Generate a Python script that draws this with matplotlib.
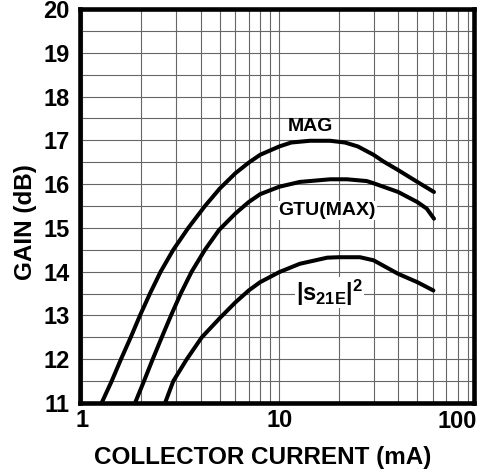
import matplotlib
matplotlib.use("Agg")
import matplotlib.pyplot as plt
from matplotlib.transforms import blended_transform_factory

plt.rcParams['font.family'] = ['Liberation Sans', 'DejaVu Sans']
plt.rcParams['font.weight'] = 'bold'
plt.rcParams['mathtext.fontset'] = 'custom'
plt.rcParams['mathtext.rm'] = 'Liberation Sans:bold'
plt.rcParams['mathtext.bf'] = 'Liberation Sans:bold'
plt.rcParams['mathtext.it'] = 'Liberation Sans:bold'

# collector current (mA) vs gain (dB)
mag_x = [1.26, 1.417, 1.579, 1.769, 1.971, 2.214, 2.508, 2.906, 3.462, 4.205, 5.0, 6.0, 7.0, 8.0,
         10.0, 11.5, 14.3, 18.1, 21.5, 25.0, 30.0, 33.6, 40.0, 50.0, 60.7]
mag_y = [11.0, 11.5, 12.0, 12.5, 13.0, 13.5, 14.0, 14.5, 15.0, 15.5, 15.9, 16.25, 16.49, 16.67,
         16.86, 16.95, 16.99, 16.99, 16.95, 16.86, 16.67, 16.52, 16.32, 16.05, 15.82]

gtu_x = [1.86, 2.065, 2.286, 2.54, 2.83, 3.17, 3.60, 4.205, 4.95, 6.0, 7.0, 8.0, 10.0, 12.7,
         18.1, 22.0, 27.7, 30.0, 40.0, 50.0, 55.8, 60.7]
gtu_y = [11.0, 11.5, 12.0, 12.5, 13.0, 13.5, 14.0, 14.5, 14.95, 15.33, 15.59, 15.77, 15.94, 16.05,
         16.11, 16.11, 16.07, 16.02, 15.82, 15.59, 15.44, 15.21]

s21_x = [2.64, 2.906, 3.40, 4.05, 5.05, 6.0, 7.0, 8.0, 10.0, 12.7, 17.5, 20.0, 25.6, 30.0, 40.0,
         50.0, 60.3]
s21_y = [11.0, 11.5, 12.0, 12.5, 12.96, 13.30, 13.57, 13.76, 13.99, 14.18, 14.32, 14.33, 14.33,
         14.26, 13.95, 13.76, 13.57]

y_ticks = [11, 12, 13, 14, 15, 16, 17, 18, 19, 20]
x_ticks = [1, 10, 100]
x_tick_labels = ['1', '10', '100']

fig = plt.figure(figsize=(4.83, 4.74), dpi=100)
ax = fig.add_axes([79.7 / 483, 1 - 403 / 474, (474 - 79.7) / 483, (403 - 9) / 474])

ax.set_xscale('log')
ax.set_xlim(0.976, 96.8)
ax.set_ylim(11, 20)

for xs, ys in [(mag_x, mag_y), (gtu_x, gtu_y), (s21_x, s21_y)]:
    ax.plot(xs, ys, color='black', linewidth=2.9, solid_capstyle='round',
            solid_joinstyle='round', zorder=3)

# grid: 1..9 per decade, every 0.5 dB
ax.set_yticks(y_ticks)
ax.set_yticks([v + 0.5 for v in y_ticks[:-1]], minor=True)
ax.set_xticks(x_ticks[:-1])
ax.set_xticklabels(x_tick_labels[:-1])
ax.grid(True, which='both', color='#666666', linewidth=0.8)
ax.tick_params(which='both', length=0, labelsize=17)
ax.tick_params(axis='y', pad=7)
ax.tick_params(axis='x', pad=4)
ax.xaxis.set_minor_formatter(matplotlib.ticker.NullFormatter())

# last decade label sits just outside the plotted range
trans = blended_transform_factory(ax.transData, ax.transAxes)
ax.text(x_ticks[-1], -0.018, x_tick_labels[-1], transform=trans, ha='right', va='top',
        fontsize=17, fontweight='bold', clip_on=False)

for lab in ax.get_xticklabels() + ax.get_yticklabels():
    lab.set_fontweight('bold')

for sp in ax.spines.values():
    sp.set_linewidth(3.3)
    sp.set_zorder(4)

ax.set_ylabel('GAIN (dB)', fontsize=17.5, fontweight='bold')
ax.yaxis.set_label_coords(-0.108, 0.46)
ax.set_xlabel('COLLECTOR CURRENT (mA)', fontsize=17.5, fontweight='bold')
ax.xaxis.set_label_coords(0.465, -0.108)

ax.text(14.3, 17.31, 'MAG', fontsize=14, fontweight='bold', ha='center', va='center')
ax.text(17.5, 15.40, 'GTU(MAX)', fontsize=14, fontweight='bold', ha='center', va='center',
        bbox=dict(facecolor='white', edgecolor='none', pad=0.5), zorder=4)
ax.text(17.9, 13.52, r'$|s_{21E}|^{2}$', fontsize=17, ha='center', va='center',
        bbox=dict(facecolor='white', edgecolor='none', pad=0.5), zorder=4)

fig.savefig('out.png', dpi=100)
